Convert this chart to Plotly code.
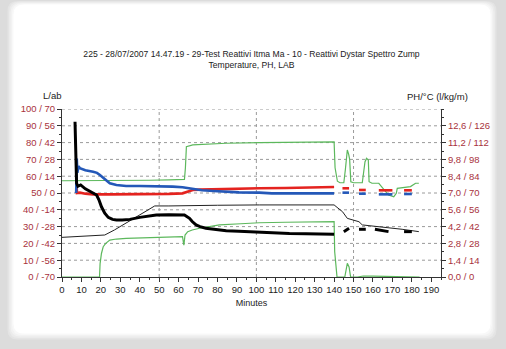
import plotly.graph_objects as go

# ---------------- data ----------------
# Thick black series (L)
lab_x = [6.7, 7.5, 8.2, 9.6, 12, 15, 17.8, 19, 20.3, 22, 23.8, 26, 28, 31, 34.9, 40, 44, 48.5, 55, 63,
         65.6, 67, 69, 71, 74, 78, 84.5, 91, 101.5, 108, 117, 125.5, 133, 140,
         None, 145, 147.7, None, 152.8, 156.3, None, 161, 168, None, 176, 180]
lab_y = [92.4, 55.8, 54, 54.8, 52.5, 50.5, 48.8, 46, 41.8, 38, 35.5, 34.3, 33.9, 34, 34.3, 35.5, 36.2, 36.9, 37, 36.9,
         34.9, 33, 31, 30, 29, 28.3, 27.6, 27.3, 26.6, 26.4, 25.9, 25.8, 25.6, 25.4,
         None, 27, 29, None, 28.4, 28.4, None, 28.4, 27, None, 27, 27]

# Thin black series (temperature)
temp_x = [0, 10, 22, 27, 33, 40, 47.7, 55, 64, 80, 101.5, 115, 125.5, 132, 140, 142, 144.3, 146.8, 149.4,
          152.8, 154.5, 159.6, 166.5, 175, 183.6]
temp_y = [23.6, 24.2, 25, 28, 32, 37, 42.3, 42.3, 42.3, 42.7, 42.9, 42.9, 42.9, 42.9, 42.9, 41, 38.9, 34.9, 33.9,
          32.9, 31, 30.4, 29.6, 28.4, 27]

# Red series
red_x = [7.3, 7.5, 7.7, 9.2, 12, 16, 25, 33, 45, 55, 62, 64, 67.3, 71, 76, 90, 101.5, 115, 125.5, 133, 140,
         None, 144.3, 147.7, None, 152.8, 156.3, None, 163, 170, None, 176, 180]
red_y = [50, 55, 50, 50.2, 49.6, 49.2, 49.2, 49.2, 49.3, 49.5, 49.8, 50.5, 51.8, 52, 52.2, 52.5, 52.8, 53, 53.2, 53.4, 53.6,
         None, 52.8, 52.8, None, 51.8, 51.8, None, 51.6, 51.6, None, 51.6, 51.6]

# Blue series
blue_x = [7.3, 7.6, 7.9, 8.5, 9.2, 12, 16, 18, 19.5, 22, 24.6, 28, 33, 40, 50, 57, 62, 64, 67.3, 72, 78, 84.5,
          91, 101.5, 108, 120, 130, 140, None, 144.3, 147.7, None, 152.8, 156.3, None, 163, 170, None, 176, 180]
blue_y = [50, 70.5, 62, 66, 64.7, 63.5, 62.7, 62, 60.7, 58, 55.8, 54.8, 54.2, 54.2, 54.2, 53.8, 53.4, 53, 52.2, 51.6, 51.2, 50.8,
          50.4, 50.2, 49.8, 49.8, 49.8, 49.8, None, 50.2, 50.2, None, 49.6, 49.6, None, 49.2, 49.2, None, 49.4, 49.4]

# Green upper series (pH)
ph_x = [0, 10, 20, 33, 45, 55, 63, 63.5, 64, 67.3, 75, 84.5, 101.5, 120, 140, 140.5, 141.7, 143, 145, 145.8, 146.8,
        147.5, 148, 148.6, 150, 154.5, 155.3, 155.9, 156.7, 157.6, 158, 159.5, 163, 165.6, 168, 170.7, 172, 172.5,
        176.8, 179.3, 181.9, 183.6]
ph_y = [57.3, 57.3, 57.3, 57.3, 57.6, 57.8, 58.1, 65, 77.6, 78.6, 79.2, 79.6, 80, 80.2, 80.4, 65, 57, 56.1, 56.1, 64, 75.6,
        73, 70, 56.7, 56.1, 56.1, 62, 68.6, 70.6, 69.6, 56.7, 55.8, 55.8, 51.8, 48.8, 47.8, 49.8, 52.8,
        53.4, 53.8, 55.8, 55.8]

# Green lower series (flow)
flow_x = [0, 10, 19.3, 19.6, 20.3, 21.2, 22.5, 24.6, 28, 33, 40, 50, 58, 62, 62.7, 63.3, 64.7, 67, 70.8, 75, 81, 92,
          101.5, 115, 130, 140, 140.3, 141.5, 145.5, 146.3, 146.8, 147.7, 148.5, 152, 155, 160, 165, 170, 175, 180, 184]
flow_y = [0, 0, 0, 8, 14, 18, 20, 22, 22.6, 23, 23.2, 23.4, 23.6, 24, 19, 25, 27, 28, 29, 30, 31, 31.7,
          32.3, 32.6, 32.8, 32.9, 15, 0, 0, 6, 8.1, 6, 0, 0, 0.6, 0.5, 0.4, 0.5, 0.4, 0.3, 0]

x_ticks = list(range(0, 200, 10))
left_vals = [0, 10, 20, 30, 40, 50, 60, 70, 80, 90, 100]
left_text = ["0 / -70", "10 / -56", "20 / -42", "30 / -28", "40 / -14", "50 / 0",
             "60 / 14", "70 / 28", "80 / 42", "90 / 56", "100 / 70"]
right_vals = [0, 10, 20, 30, 40, 50, 60, 70, 80, 90]
right_text = ["0,0 / 0", "1,4 / 14", "2,8 / 28", "4,2 / 42", "5,6 / 56", "7,0 / 70",
              "8,4 / 84", "9,8 / 98", "11,2 / 112", "12,6 / 126"]

title_text = ("225 - 28/07/2007 14.47.19 - 29-Test Reattivi Itma Ma - 10 - Reattivi Dystar Spettro Zump"
              "<br>Temperature, PH, LAB")

# ---------------- figure ----------------
W, H = 506, 349
L, R, T, B = 62, 65, 109, 72
PW, PH = W - L - R, H - T - B

def px(x):
    return (x - L) / PW

def py(y):
    return (H - B - y) / PH

def rrect(x0, y0, x1, y1, r):
    rx, ry = r / PW, r / PH
    a, b, c, d = px(x0), py(y0), px(x1), py(y1)
    return (f"M {a+rx},{b} L {c-rx},{b} Q {c},{b} {c},{b-ry} L {c},{d+ry} Q {c},{d} {c-rx},{d} "
            f"L {a+rx},{d} Q {a},{d} {a},{d+ry} L {a},{b-ry} Q {a},{b} {a+rx},{b} Z")

fig = go.Figure()
green = "#5cb85c"
fig.add_trace(go.Scatter(x=flow_x, y=flow_y, mode="lines", line=dict(color=green, width=1.2), showlegend=False))
fig.add_trace(go.Scatter(x=ph_x, y=ph_y, mode="lines", line=dict(color=green, width=1.2), showlegend=False))
fig.add_trace(go.Scatter(x=temp_x, y=temp_y, mode="lines", line=dict(color="#222222", width=1), showlegend=False))
fig.add_trace(go.Scatter(x=red_x, y=red_y, mode="lines", line=dict(color="#e4231f", width=2.6), showlegend=False))
fig.add_trace(go.Scatter(x=blue_x, y=blue_y, mode="lines", line=dict(color="#2458b8", width=2.6), showlegend=False))
fig.add_trace(go.Scatter(x=lab_x, y=lab_y, mode="lines", line=dict(color="#000000", width=3), showlegend=False))
fig.add_trace(go.Scatter(x=[0], y=[0], yaxis="y2", mode="markers", marker=dict(opacity=0),
                         showlegend=False, hoverinfo="skip"))

# background vignette
shapes = []
greys = ["#e4e4e4", "#ebebeb", "#f2f2f2", "#f8f8f8", "#ffffff"]
for i, g in enumerate(greys):
    ins = 1.5 * (i + 1)
    shapes.append(dict(type="path", xref="paper", yref="paper",
                       path=rrect(6 + ins, 0 + ins * 0.6, W - 8 - ins, H - 8 - ins, 10),
                       fillcolor=g, line=dict(width=0), layer="below"))

font = "Liberation Sans, Arial, sans-serif"
tick_red = "#a8323c"
fig.update_layout(
    width=W, height=H,
    margin=dict(l=L, r=R, t=T, b=B),
    paper_bgcolor="#dcdcdc",
    plot_bgcolor="rgba(0,0,0,0)",
    shapes=shapes,
    font=dict(family=font, size=9, color="#222222"),
    title=dict(text=title_text, x=0.5, xref="paper", xanchor="center",
               y=1 - 57 / H, yanchor="top", font=dict(size=8.6, color="#222222")),
    xaxis=dict(range=[0, 195], tickvals=x_ticks, ticks="outside", ticklen=4, tickcolor="#333",
               showline=True, linecolor="#333", linewidth=1,
               minor=dict(dtick=5, ticks="outside", ticklen=2, tickcolor="#333"),
               showgrid=False, zeroline=False,
               title=dict(text="Minutes", font=dict(size=9), standoff=5),
               tickfont=dict(size=9.5, color="#222")),
    yaxis=dict(range=[0, 100], tickvals=left_vals, ticktext=left_text, ticks="outside", ticklen=4,
               tickcolor="#333", showline=True, linecolor="#333", linewidth=1,
               minor=dict(dtick=5, ticks="outside", ticklen=2, tickcolor="#333"),
               showgrid=False, zeroline=False, tickfont=dict(size=9.5, color=tick_red)),
    yaxis2=dict(range=[0, 100], overlaying="y", side="right", tickvals=right_vals, ticktext=right_text,
                ticks="outside", ticklen=4, tickcolor="#333", showline=True, linecolor="#333", linewidth=1,
                minor=dict(dtick=5, ticks="outside", ticklen=2, tickcolor="#333"),
                showgrid=False, zeroline=False, tickfont=dict(size=9.5, color=tick_red)),
)

# dotted grid lines
for v in range(10, 101, 10):
    fig.add_shape(type="line", xref="paper", yref="y", x0=0, x1=1, y0=v, y1=v,
                  line=dict(color="#9a9a9a", width=1, dash="dot"), layer="below")
for v in [50, 100, 150]:
    fig.add_shape(type="line", xref="x", yref="paper", x0=v, x1=v, y0=0, y1=1,
                  line=dict(color="#9a9a9a", width=1, dash="dot"), layer="below")

fig.add_annotation(text="L/ab", xref="paper", yref="paper", x=px(52), y=py(95),
                   xanchor="center", yanchor="middle",
                   showarrow=False, font=dict(size=9.5, color="#222"))
fig.add_annotation(text="PH/°C (l/kg/m)", xref="paper", yref="paper", x=px(437), y=py(96),
                   xanchor="center", yanchor="middle",
                   showarrow=False, font=dict(size=9.5, color="#222"))

fig.write_html("out.html")
